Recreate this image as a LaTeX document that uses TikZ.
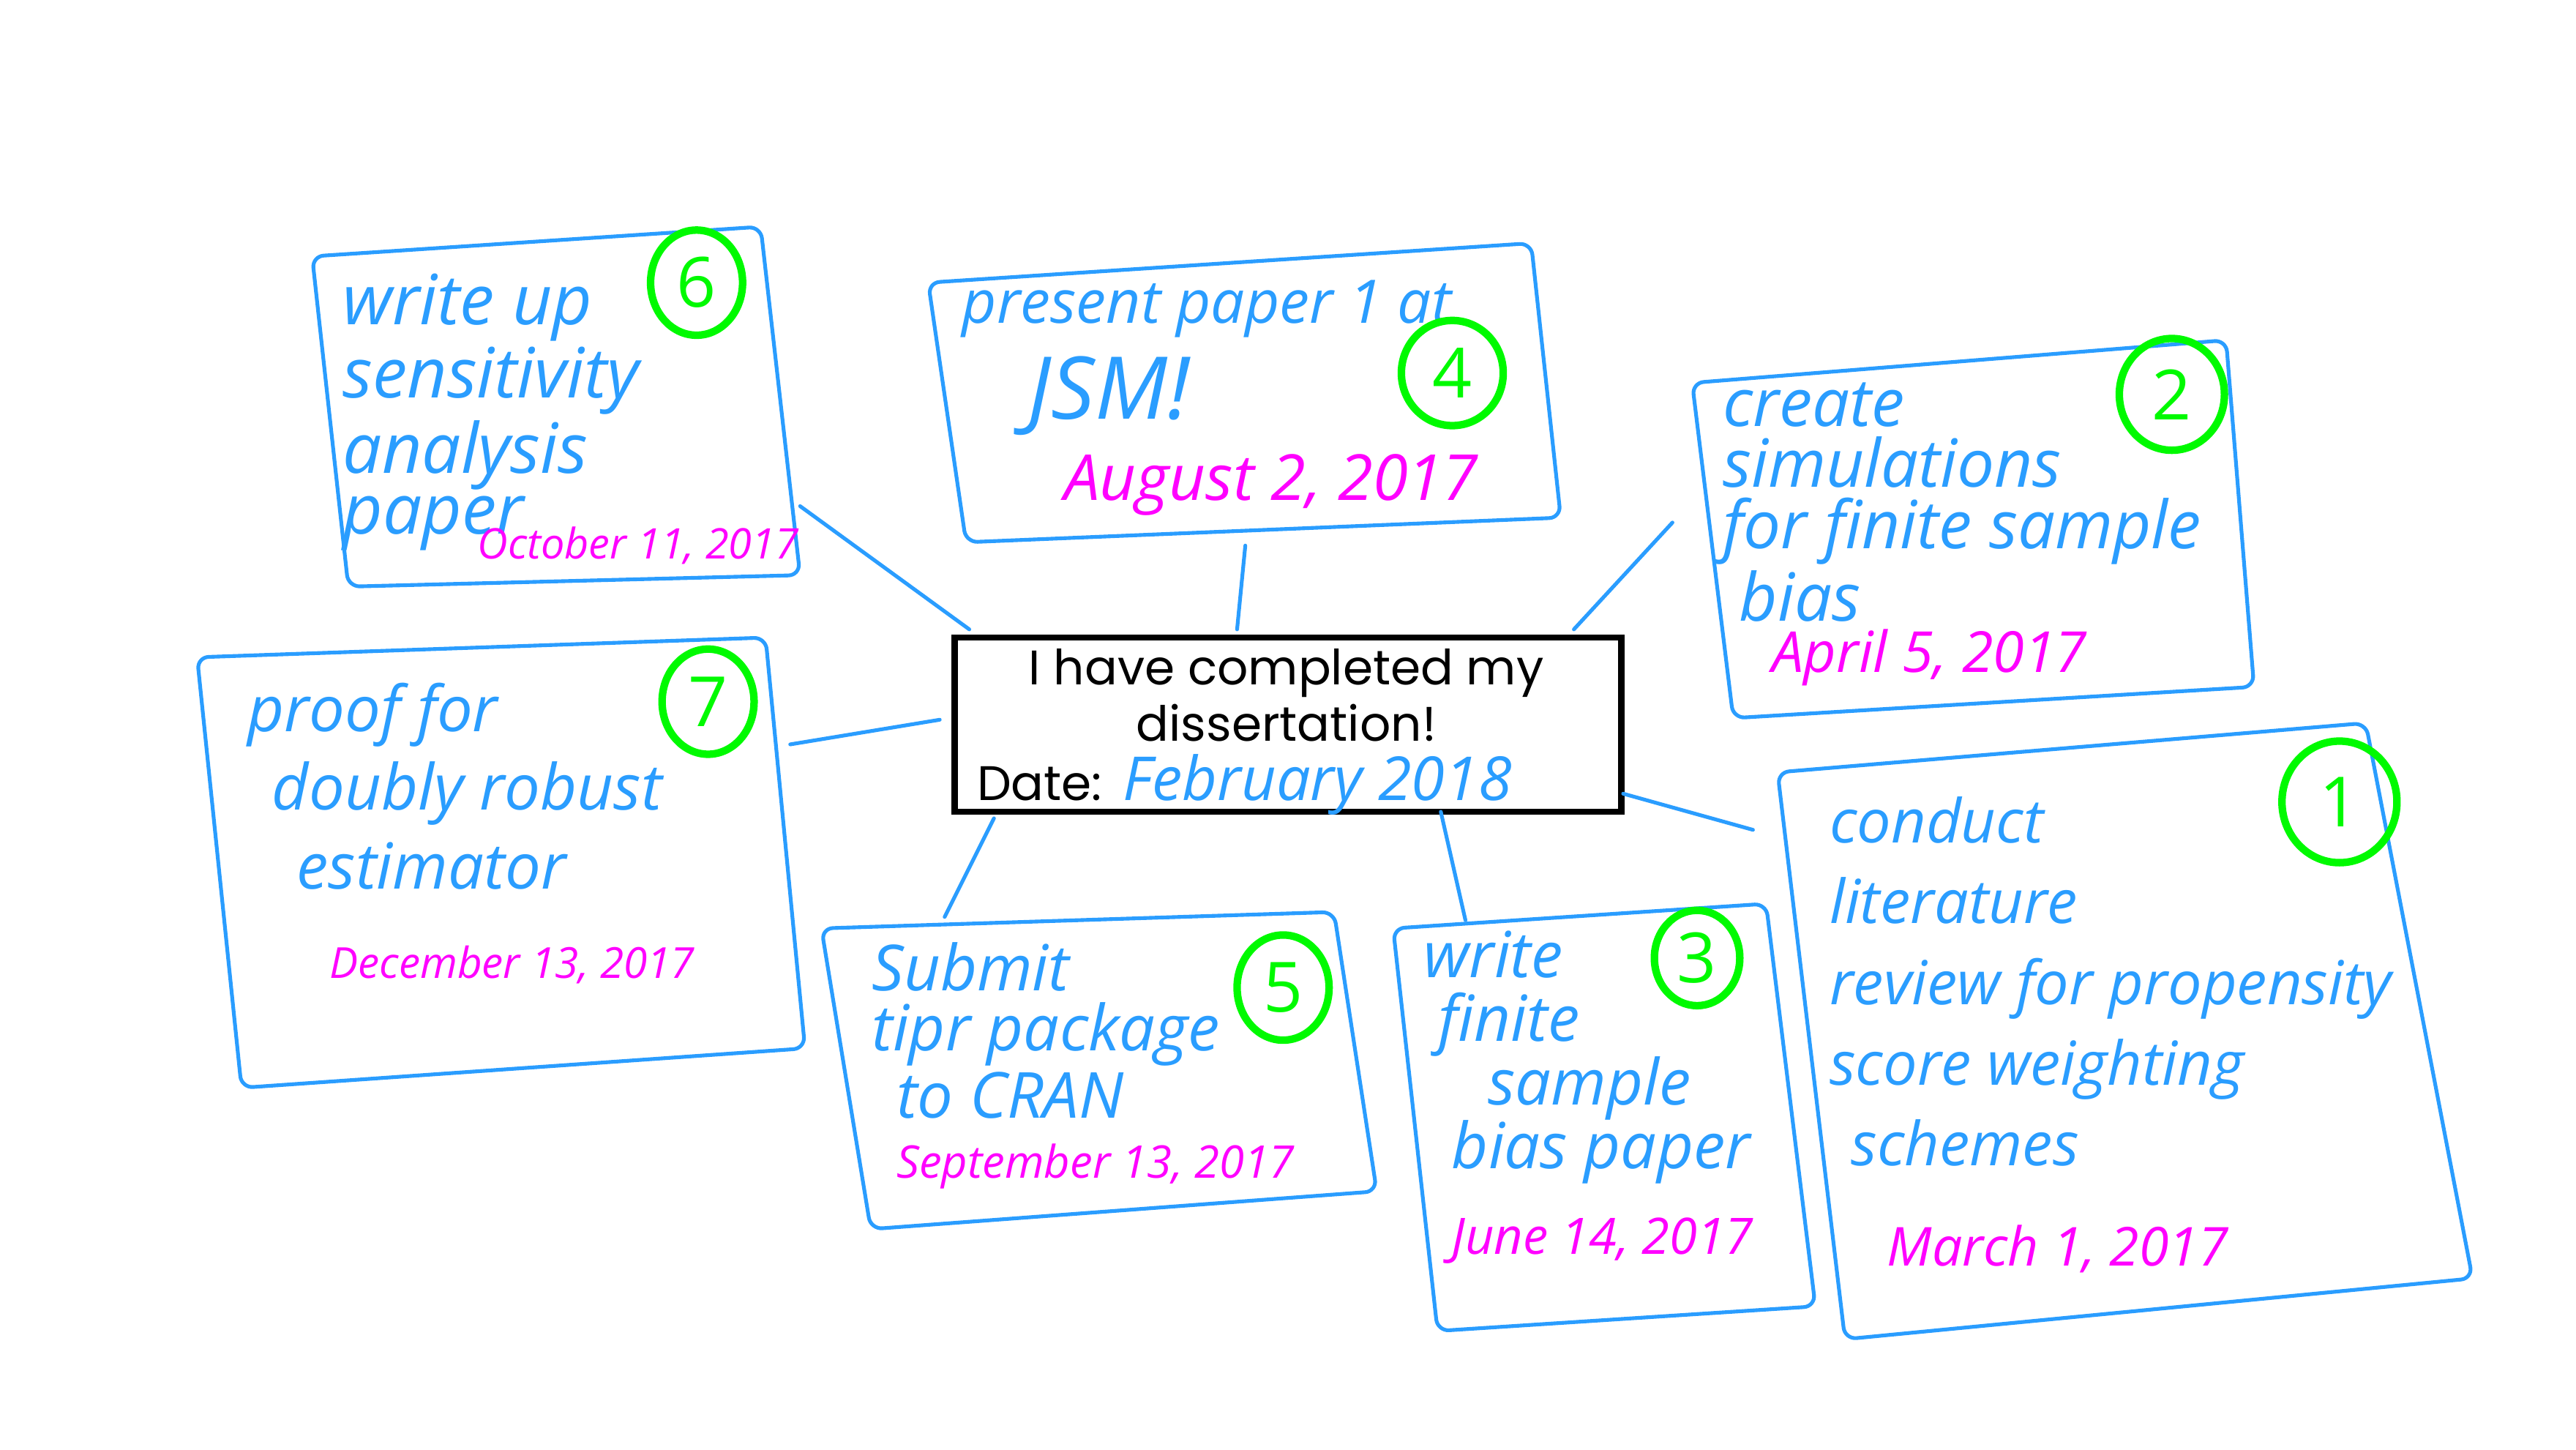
\documentclass[tikz,border=0pt]{standalone}
\usepackage{fontspec}
\usepackage{tikz}
\usetikzlibrary{shapes.geometric}
\newfontfamily\handfont{Open Sans}
\newfontfamily\printfont{Poppins}
\definecolor{penblue}{RGB}{42,157,255}
\definecolor{penpink}{RGB}{255,0,255}
\definecolor{pengreen}{RGB}{0,250,0}
\newcommand{\hw}[2]{\handfont\itshape\fontsize{#1}{#2}\selectfont}

\begin{document}
\begin{tikzpicture}
  \tikzset{
    paper/.style={draw=penblue, line width=0.65pt, line join=round, rounded corners=2pt},
    link/.style={draw=penblue, line width=0.65pt, line cap=round},
    task/.style={text=penblue, align=left, anchor=north west, inner sep=0pt},
    due/.style={text=penpink, anchor=west, inner sep=0pt},
    badge/.style={ellipse, draw=pengreen, line width=1.3pt, text=pengreen, minimum width=0.56cm, minimum height=0.64cm, inner sep=0pt, font=\handfont\fontsize{12}{12}\selectfont},
    goal/.style={draw=black, line width=1.1pt, minimum width=4.06cm, minimum height=1.06cm, inner sep=0pt},
    printed/.style={inner sep=0pt, anchor=base, font=\printfont\fontsize{8.4}{8.4}\selectfont}
  }
  \useasboundingbox (0,0) rectangle (15.68,-8.82);

  \node[goal] (goal) at (7.84,-4.41) {};
  \node[printed] (goalA) at (7.83,-4.165) {I have completed my};
  \node[printed] (goalB) at (7.83,-4.51) {dissertation!};
  \node[printed, anchor=base west] (goalDate) at (5.94,-4.87) {Date:};
  \node[inner sep=0pt, anchor=base west, text=penblue, font=\hw{10.5}{10.5}] (goalWhen) at (6.83,-4.87) {February 2018};

  \draw[paper] (1.90,-1.56) -- (4.63,-1.38) -- (4.87,-3.50) -- (2.12,-3.57) -- cycle;
  \node[task, font=\hw{12}{10.5}] (sixText) at (2.08,-1.66) {write up\\sensitivity\\analysis\\paper};
  \node[badge] (six) at (4.24,-1.72) {6};
  \node[due, font=\hw{7.3}{7.3}] (sixDue) at (2.90,-3.32) {October 11, 2017};

  \draw[paper] (5.65,-1.72) -- (9.32,-1.48) -- (9.50,-3.15) -- (5.88,-3.30) -- cycle;
  \node[task, font=\hw{10.4}{10.4}] (fourText) at (5.85,-1.70) {present paper 1 at};
  \node[task, font=\hw{15}{15}] (fourTextB) at (6.25,-2.16) {JSM!};
  \node[badge, minimum width=0.62cm, minimum height=0.64cm] (four) at (8.84,-2.27) {4};
  \node[due, font=\hw{11}{11}] (fourDue) at (6.47,-2.95) {August 2, 2017};

  \draw[paper] (10.30,-2.33) -- (13.55,-2.07) -- (13.72,-4.18) -- (10.55,-4.37) -- cycle;
  \node[task, font=\hw{11.5}{10.6}] (twoText) at (10.48,-2.32) {create\\simulations\\for finite sample\\\hspace*{0.1cm}bias};
  \node[badge, minimum width=0.64cm, minimum height=0.68cm] (two) at (13.22,-2.40) {2};
  \node[due, font=\hw{9.8}{9.8}] (twoDue) at (10.78,-4.00) {April 5, 2017};

  \draw[paper] (1.20,-4.00) -- (4.66,-3.88) -- (4.90,-6.38) -- (1.47,-6.62) -- cycle;
  \node[task, font=\hw{11}{13.6}] (sevenText) at (1.50,-4.15) {proof for\\\hspace*{0.15cm}doubly robust\\\hspace*{0.3cm}estimator};
  \node[badge] (seven) at (4.31,-4.27) {7};
  \node[due, font=\hw{7.4}{7.4}] (sevenDue) at (2.00,-5.87) {December 13, 2017};

  \draw[paper] (5.00,-5.65) -- (8.12,-5.55) -- (8.38,-7.25) -- (5.30,-7.48) -- cycle;
  \node[task, font=\hw{11}{10.4}] (fiveText) at (5.30,-5.73) {Submit\\tipr package\\\hspace*{0.15cm}to CRAN};
  \node[badge] (five) at (7.81,-6.01) {5};
  \node[due, font=\hw{7.8}{7.8}] (fiveDue) at (5.45,-7.10) {September 13, 2017};

  \draw[paper] (8.48,-5.65) -- (10.75,-5.50) -- (11.05,-7.95) -- (8.75,-8.10) -- cycle;
  \node[task, font=\hw{11}{11}] (threeText) at (8.66,-5.66) {write\\\hspace*{0.09cm}finite\\\hspace*{0.39cm}sample\\\hspace*{0.17cm}bias paper};
  \node[badge, minimum width=0.52cm, minimum height=0.58cm] (three) at (10.33,-5.83) {3};
  \node[due, font=\hw{8.7}{8.7}] (threeDue) at (8.83,-7.55) {June 14, 2017};

  \draw[paper] (10.82,-4.70) -- (14.40,-4.40) -- (15.05,-7.78) -- (11.23,-8.15) -- cycle;
  \node[task, font=\hw{10.5}{14}] (oneText) at (11.13,-4.84) {conduct\\literature\\review for propensity\\score weighting\\\hspace*{0.13cm}schemes};
  \node[badge, minimum width=0.70cm, minimum height=0.74cm] (one) at (14.24,-4.88) {1};
  \node[due, font=\hw{9.3}{9.3}] (oneDue) at (11.48,-7.60) {March 1, 2017};

  \coordinate (sixEnd) at (4.87,-3.08);
  \coordinate (sixTip) at (5.90,-3.83);
  \coordinate (fourEnd) at (7.58,-3.32);
  \coordinate (fourTip) at (7.53,-3.83);
  \coordinate (twoEnd) at (10.18,-3.18);
  \coordinate (twoTip) at (9.58,-3.83);
  \coordinate (sevenEnd) at (4.81,-4.53);
  \coordinate (sevenTip) at (5.72,-4.38);
  \coordinate (fiveEnd) at (5.75,-5.58);
  \coordinate (fiveTip) at (6.05,-4.98);
  \coordinate (threeEnd) at (8.92,-5.60);
  \coordinate (threeTip) at (8.77,-4.94);
  \coordinate (oneEnd) at (10.67,-5.05);
  \coordinate (oneTip) at (9.88,-4.83);

  \draw[link] (sixEnd) -- (sixTip);
  \draw[link] (fourEnd) -- (fourTip);
  \draw[link] (twoEnd) -- (twoTip);
  \draw[link] (sevenEnd) -- (sevenTip);
  \draw[link] (fiveEnd) -- (fiveTip);
  \draw[link] (threeEnd) -- (threeTip);
  \draw[link] (oneEnd) -- (oneTip);
\end{tikzpicture}
\end{document}
